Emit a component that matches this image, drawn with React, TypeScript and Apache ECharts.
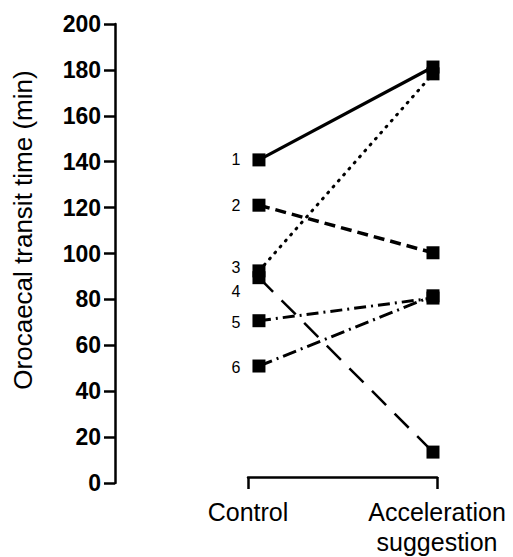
import React, { useEffect, useRef } from "react";
import * as echarts from "echarts";

const categories = ["Control", "Acceleration\nsuggestion"];
const subjectLabels = ["1", "2", "3", "4", "5", "6"];
const controlValues = [140, 120, 91, 88, 69, 49];
const accelerationValues = [181, 99, 178, 11, 79, 80];
const yTicks = { min: 0, max: 200, interval: 20 };
const yTitle = "Orocaecal transit time (min)";

const FONT = "'Liberation Sans', Arial, Helvetica, sans-serif";

const lineTypes: any[] = ["solid", [11, 6], [1, 7], [20, 12], [12, 5, 2, 5], [14, 5, 2, 5]];
const lineWidths = [3.2, 3.5, 3, 2.5, 3, 3];
const labelOffsets: number[][] = [[0, 0], [0, 0], [0, -3], [0, 14], [0, 2], [0, 1]];

const X_MIN = -0.063;
const X_MAX = 1.023;

export default function App() {
  const ref = useRef<HTMLDivElement>(null);
  useEffect(() => {
    if (!ref.current) return;
    const chart = echarts.init(ref.current, null, { renderer: "svg" });
    const series = subjectLabels.map((lab, i) => ({
      type: "line",
      xAxisIndex: 1,
      yAxisIndex: 1,
      symbol: "rect",
      symbolSize: 13,
      z: 2 + i,
      itemStyle: { color: "#000" },
      lineStyle: {
        color: "#000",
        width: lineWidths[i],
        type: lineTypes[i],
        cap: i === 2 ? "round" : "butt",
      },
      data: [
        {
          value: [0, controlValues[i]],
          label: {
            show: true,
            position: "left",
            distance: 12,
            offset: labelOffsets[i],
            formatter: lab,
            color: "#000",
            fontSize: 16,
            fontFamily: FONT,
          },
        },
        { value: [1, accelerationValues[i]] },
      ],
    }));
    chart.setOption({
      animation: false,
      backgroundColor: "#fff",
      grid: [
        { left: 115, top: 24, bottom: 74, width: 50 },
        { left: 248, right: 76, top: 24, bottom: 74 },
      ],
      xAxis: [
        { gridIndex: 0, type: "value", show: false, min: 0, max: 1 },
        {
          gridIndex: 1,
          type: "value",
          min: X_MIN,
          max: X_MAX,
          splitLine: { show: false },
          axisLine: { show: true, lineStyle: { color: "#000", width: 2.5 } },
          axisTick: {
            show: true,
            customValues: [X_MIN, X_MAX],
            length: 12,
            lineStyle: { color: "#000", width: 2.5 },
          },
          axisLabel: {
            customValues: [X_MIN, X_MAX],
            margin: 20,
            color: "#000",
            fontSize: 25,
            lineHeight: 30,
            fontFamily: FONT,
            formatter: (v: number) => (v < 0.5 ? categories[0] : categories[1]),
          },
        },
      ],
      yAxis: [
        {
          gridIndex: 0,
          type: "value",
          min: yTicks.min,
          max: yTicks.max,
          interval: yTicks.interval,
          splitLine: { show: false },
          axisLine: { show: true, lineStyle: { color: "#000", width: 2.5 } },
          axisTick: { show: true, length: 11, lineStyle: { color: "#000", width: 2.5 } },
          axisLabel: {
            margin: 14,
            color: "#000",
            fontSize: 23,
            fontWeight: "bold",
            fontFamily: FONT,
          },
        },
        {
          gridIndex: 1,
          type: "value",
          show: false,
          min: yTicks.min,
          max: yTicks.max,
          interval: yTicks.interval,
          splitLine: { show: false },
        },
      ],
      graphic: [
        {
          type: "text",
          x: 23,
          y: 230,
          rotation: Math.PI / 2,
          style: {
            text: yTitle,
            fill: "#000",
            fontSize: 26,
            fontFamily: FONT,
            align: "center",
            verticalAlign: "middle",
          },
        },
      ],
      series,
    });
    return () => chart.dispose();
  }, []);
  return (
    <div
      ref={ref}
      style={{ position: "fixed", left: 0, top: 0, width: 513, height: 557 }}
    />
  );
}
